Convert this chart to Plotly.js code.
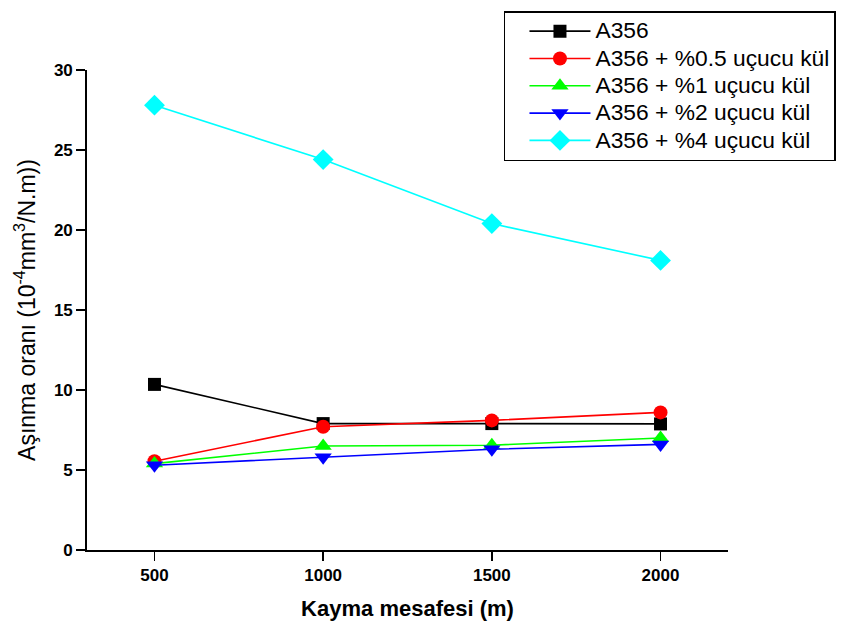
<!DOCTYPE html>
<html>
<head>
<meta charset="utf-8">
<script src="https://cdn.plot.ly/plotly-3.0.1.min.js"></script>
<style>html,body{margin:0;padding:0;background:#fff;}#chart{width:843px;height:630px;}</style>
</head>
<body>
<div id="chart"></div>
<script>
var distances = [500, 1000, 1500, 2000];
var seriesNames = ["A356", "A356 + %0.5 uçucu kül", "A356 + %1 uçucu kül", "A356 + %2 uçucu kül", "A356 + %4 uçucu kül"];
var a356 = [10.35, 7.9, 7.9, 7.88];
var a356_05 = [5.55, 7.7, 8.1, 8.6];
var a356_1 = [5.4, 6.5, 6.55, 7.0];
var a356_2 = [5.3, 5.8, 6.3, 6.6];
var a356_4 = [27.8, 24.4, 20.4, 18.1];
var xTicks = [500, 1000, 1500, 2000];
var yTicks = [0, 5, 10, 15, 20, 25, 30];

var colors = ["#000000", "#ff0000", "#00ff00", "#0000ff", "#00ffff"];
var symbols = ["square", "circle", "triangle-up", "triangle-down", "diamond"];
var sizes = [13, 14, 15, 15, 16];
var values = [a356, a356_05, a356_1, a356_2, a356_4];

var traces = values.map(function (v, i) {
  return {
    x: distances, y: v, type: "scatter", mode: "lines+markers",
    name: '<span style="font-size:22.8px">' + seriesNames[i] + '</span>',
    line: {color: colors[i], width: 1.6},
    marker: {color: colors[i], symbol: symbols[i], size: sizes[i]}
  };
});

var font = "Arial, 'Liberation Sans', sans-serif";
var layout = {
  width: 843, height: 630,
  paper_bgcolor: "#fff", plot_bgcolor: "#fff",
  margin: {l: 87, r: 115, t: 70, b: 80, autoexpand: false},
  font: {family: font, color: "#000"},
  showlegend: true,
  legend: {
    x: 0.6505, y: 1.1229, xanchor: "left", yanchor: "top",
    bgcolor: "#fff", bordercolor: "#000", borderwidth: 1.5,
    font: {family: font, size: 18.7, color: "#000"},
    itemwidth: 61, indentation: 19, tracegroupgap: 0
  },
  xaxis: {
    range: [300, 2200], tickvals: xTicks, ticktext: xTicks.map(String),
    showgrid: false, zeroline: false, showline: true, linecolor: "#000", linewidth: 1.8,
    ticks: "outside", ticklen: 9, tickwidth: 1.8, tickcolor: "#000",
    tickfont: {family: font, size: 17, color: "#000", weight: "bold"},
    title: {text: "Kayma mesafesi (m)", font: {family: font, size: 22, color: "#000", weight: "bold"}, standoff: 16}
  },
  yaxis: {
    range: [0, 30], tickvals: yTicks, ticktext: yTicks.map(String),
    showgrid: false, zeroline: false, showline: true, linecolor: "#000", linewidth: 1.8,
    ticks: "outside", ticklen: 9, tickwidth: 1.8, tickcolor: "#000",
    tickfont: {family: font, size: 17, color: "#000", weight: "bold"},
    title: {text: "Aşınma oranı (10<sup>-4</sup>mm<sup>3</sup>/N.m))", font: {family: font, size: 23, color: "#000"}, standoff: 12}
  }
};

Plotly.newPlot("chart", traces, layout, {displayModeBar: false, staticPlot: true});
</script>
</body>
</html>
